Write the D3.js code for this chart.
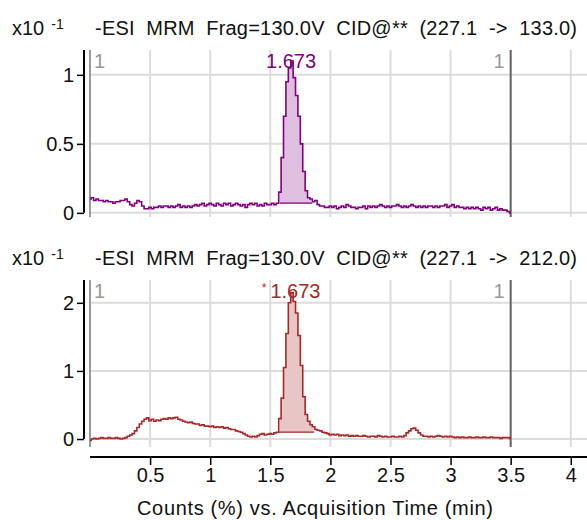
<!DOCTYPE html>
<html>
<head>
<meta charset="utf-8">
<script src="https://cdn.jsdelivr.net/npm/d3@7"></script>
<style>
  html, body { margin: 0; padding: 0; background: #fff; }
  svg { display: block; font-family: "Liberation Sans", Arial, sans-serif; }
</style>
</head>
<body>
<svg id="chart" width="587" height="520"></svg>
<script>
// Acquisition grid: one sample every 0.02 min from 0 to 3.50 min
const sampleStart = 0;
const sampleStep = 0.02;

// MRM transition 227.1 -> 133.0, counts x10^-1
const trace133 = [
  0.10,0.11,0.09,0.10,0.09,0.09,0.08,0.09,0.08,0.08,
  0.07,0.08,0.08,0.09,0.09,0.10,0.08,0.06,0.05,0.07,
  0.09,0.08,0.05,0.03,0.03,0.04,0.03,0.04,0.04,0.05,
  0.04,0.05,0.05,0.04,0.05,0.04,0.05,0.06,0.04,0.05,
  0.04,0.05,0.04,0.05,0.06,0.05,0.06,0.07,0.05,0.06,
  0.07,0.06,0.05,0.07,0.06,0.05,0.07,0.06,0.07,0.05,
  0.06,0.07,0.06,0.05,0.06,0.04,0.06,0.07,0.06,0.07,
  0.05,0.06,0.05,0.07,0.06,0.06,0.07,0.06,0.07,0.15,
  0.40,0.70,0.95,1.05,1.10,0.98,0.85,0.70,0.50,0.30,
  0.16,0.11,0.10,0.08,0.09,0.06,0.05,0.05,0.04,0.04,
  0.05,0.04,0.05,0.03,0.04,0.05,0.04,0.06,0.05,0.04,
  0.04,0.03,0.04,0.04,0.05,0.03,0.05,0.04,0.05,0.04,
  0.05,0.06,0.05,0.04,0.05,0.04,0.05,0.05,0.06,0.05,
  0.04,0.05,0.04,0.05,0.06,0.05,0.04,0.05,0.04,0.05,
  0.04,0.05,0.05,0.04,0.05,0.04,0.05,0.05,0.06,0.04,
  0.05,0.06,0.04,0.05,0.04,0.04,0.03,0.04,0.03,0.04,
  0.03,0.04,0.03,0.02,0.04,0.03,0.04,0.02,0.03,0.04,
  0.02,0.03,0.02,0.02,0.01,0.00
];

// MRM transition 227.1 -> 212.0, counts x10^-1
const trace212 = [
  -0.02,0.00,0.01,0.00,0.01,0.02,0.01,0.01,0.02,0.01,
  0.01,0.02,0.01,0.00,0.01,0.02,0.04,0.06,0.08,0.12,
  0.17,0.22,0.26,0.29,0.31,0.27,0.29,0.26,0.28,0.27,
  0.29,0.30,0.29,0.31,0.30,0.31,0.32,0.29,0.28,0.26,
  0.25,0.24,0.25,0.23,0.22,0.22,0.20,0.21,0.19,0.19,
  0.18,0.19,0.17,0.18,0.17,0.18,0.16,0.17,0.15,0.14,
  0.14,0.12,0.11,0.10,0.08,0.06,0.04,0.03,0.04,0.03,
  0.05,0.07,0.08,0.06,0.07,0.08,0.07,0.09,0.10,0.30,
  0.60,1.05,1.55,2.00,2.15,2.02,1.85,1.52,1.08,0.62,
  0.36,0.26,0.21,0.18,0.14,0.13,0.12,0.10,0.09,0.08,
  0.06,0.07,0.06,0.07,0.05,0.06,0.05,0.06,0.04,0.05,
  0.04,0.05,0.04,0.04,0.05,0.04,0.03,0.04,0.04,0.03,
  0.05,0.04,0.03,0.04,0.03,0.03,0.04,0.03,0.03,0.04,
  0.03,0.05,0.09,0.12,0.15,0.16,0.13,0.09,0.06,0.04,
  0.04,0.03,0.04,0.03,0.04,0.05,0.04,0.03,0.04,0.03,
  0.04,0.03,0.02,0.03,0.02,0.03,0.02,0.02,0.03,0.02,
  0.02,0.03,0.02,0.02,0.03,0.02,0.02,0.03,0.02,0.02,
  0.02,0.01,0.02,0.02,0.02,0.01
];

// Panel headers and annotations
const panelTitles = [
  "-ESI  MRM  Frag=130.0V  CID@**  (227.1  ->  133.0)",
  "-ESI  MRM  Frag=130.0V  CID@**  (227.1  ->  212.0)"
];
const peakLabels = ["1.673", "1.673"];
const peakApex = [1.673, 1.673];
const peakFlags = ["", "*"];
// integrated peak window: start, end, baseline level
const peakStart = [1.58, 1.565];
const peakEnd = [1.85, 1.865];
const peakBase = [0.07, 0.10];

const yTicks133 = [0, 0.5, 1];
const yTickLabels133 = ["0", "0.5", "1"];
const yTicks212 = [0, 1, 2];
const yTickLabels212 = ["0", "1", "2"];
const yDomain133 = [-0.03, 1.18];
const yDomain212 = [-0.117, 2.335];

const xTicks = [0.5, 1, 1.5, 2, 2.5, 3, 3.5, 4];
const xTickLabels = ["0.5", "1", "1.5", "2", "2.5", "3", "3.5", "4"];
const xDomain = [0, 4.135];
const segmentMarks = [0, 3.5];
const segmentLabel = "1";
const xAxisTitle = "Counts (%) vs. Acquisition Time (min)";
const scaleBase = "x10";
const scaleExp = "-1";

const lineColors = ["#800080", "#a82828"];
const fillColors = ["#dfbfdf", "#e9c6c6"];

// ---------- layout ----------
const svg = d3.select("#chart");
const plotLeft = 90, plotRight = 587;
const panelTops = [50, 280];
const panelHeight = 167;
const fontSize = 20;

const x = d3.scaleLinear().domain(xDomain).range([plotLeft, plotRight]);

const panels = [
  { values: trace133, ticks: yTicks133, tickLabels: yTickLabels133, domain: yDomain133 },
  { values: trace212, ticks: yTicks212, tickLabels: yTickLabels212, domain: yDomain212 }
];

panels.forEach((p, i) => {
  const top = panelTops[i];
  const bottom = top + panelHeight;
  const y = d3.scaleLinear().domain(p.domain).range([bottom, top]);
  const pts = p.values.map((v, k) => ({ t: sampleStart + k * sampleStep, v }));
  const g = svg.append("g");

  // header
  const hdr = g.append("text")
    .attr("x", 12).attr("y", top - 15)
    .attr("font-size", fontSize).attr("fill", "#111");
  hdr.append("tspan").text(scaleBase);
  hdr.append("tspan").attr("dx", 7).attr("dy", -6).attr("font-size", 14).text(scaleExp);
  g.append("text")
    .attr("x", 95).attr("y", top - 15)
    .attr("font-size", fontSize).attr("fill", "#111")
    .attr("xml:space", "preserve")
    .style("white-space", "pre")
    .attr("textLength", 482).attr("lengthAdjust", "spacing")
    .text(panelTitles[i]);

  // grid
  g.append("g").selectAll("line").data(xTicks).join("line")
    .attr("x1", d => x(d)).attr("x2", d => x(d))
    .attr("y1", top).attr("y2", bottom)
    .attr("stroke", "#dcdcdc").attr("stroke-width", 2);
  g.append("g").selectAll("line").data(p.ticks).join("line")
    .attr("x1", plotLeft).attr("x2", plotRight)
    .attr("y1", d => y(d)).attr("y2", d => y(d))
    .attr("stroke", "#dcdcdc").attr("stroke-width", 2);

  // segment boundaries
  g.append("line")
    .attr("x1", x(segmentMarks[0])).attr("x2", x(segmentMarks[0]))
    .attr("y1", top).attr("y2", bottom)
    .attr("stroke", "#9a9a9a").attr("stroke-width", 2);
  g.append("line")
    .attr("x1", x(segmentMarks[1])).attr("x2", x(segmentMarks[1]))
    .attr("y1", top).attr("y2", bottom)
    .attr("stroke", "#666").attr("stroke-width", 2);
  g.append("text")
    .attr("x", x(segmentMarks[0]) + 4).attr("y", top + 18)
    .attr("font-size", fontSize).attr("fill", "#999").text(segmentLabel);
  g.append("text")
    .attr("x", x(segmentMarks[1]) - 6).attr("y", top + 18)
    .attr("text-anchor", "end")
    .attr("font-size", fontSize).attr("fill", "#999").text(segmentLabel);

  // y axis
  const yAxis = d3.axisLeft(y).tickValues(p.ticks)
    .tickFormat((d, k) => p.tickLabels[k]).tickSize(7).tickPadding(3);
  const ya = g.append("g").attr("transform", `translate(84,0)`).call(yAxis);
  ya.select(".domain").attr("d", `M0,${top}V${y(0)}`).attr("stroke", "#000").attr("stroke-width", 2);
  ya.selectAll(".tick line").attr("stroke", "#000").attr("stroke-width", 1.5);
  ya.selectAll(".tick text").attr("font-size", fontSize).attr("fill", "#111")
    .attr("font-family", "Liberation Sans, Arial, sans-serif");

  // integrated peak fill
  const inPeak = pts.filter(d => d.t >= peakStart[i] - 1e-9 && d.t <= peakEnd[i] + 1e-9);
  const area = d3.area().curve(d3.curveStep)
    .x(d => x(d.t)).y0(y(peakBase[i])).y1(d => y(Math.max(d.v, peakBase[i])));
  g.append("path").datum(inPeak).attr("d", area).attr("fill", fillColors[i]);
  g.append("line")
    .attr("x1", x(peakStart[i])).attr("x2", x(peakEnd[i]))
    .attr("y1", y(peakBase[i])).attr("y2", y(peakBase[i]))
    .attr("stroke", lineColors[i]).attr("stroke-width", 1.2);

  // trace
  const line = d3.line().curve(d3.curveStep).x(d => x(d.t)).y(d => y(d.v));
  g.append("path").datum(pts).attr("d", line)
    .attr("fill", "none").attr("stroke", lineColors[i]).attr("stroke-width", 1.6);

  // apex label
  const lbl = g.append("text")
    .attr("x", x(peakApex[i])).attr("y", top + 18)
    .attr("text-anchor", "middle")
    .attr("font-size", fontSize).attr("fill", lineColors[i]);
  if (peakFlags[i]) {
    lbl.append("tspan").attr("font-size", 12).attr("dy", -6).text(peakFlags[i]);
    lbl.append("tspan").attr("dx", 4).attr("dy", 6).text(peakLabels[i]);
  } else {
    lbl.text(peakLabels[i]);
  }
});

// x axis
const xAxisY = 457;
const xa = svg.append("g").attr("transform", `translate(0,${xAxisY})`)
  .call(d3.axisBottom(x).tickValues(xTicks).tickFormat((d, k) => xTickLabels[k]).tickSize(8).tickPadding(3));
xa.select(".domain").attr("d", `M${plotLeft},0H${plotRight}`).attr("stroke", "#000").attr("stroke-width", 2);
xa.selectAll(".tick line").attr("stroke", "#000").attr("stroke-width", 1.5);
xa.selectAll(".tick text").attr("font-size", fontSize).attr("fill", "#111")
  .attr("font-family", "Liberation Sans, Arial, sans-serif");

svg.append("text")
  .attr("x", 137).attr("y", 515)
  .attr("font-size", fontSize).attr("fill", "#111")
  .attr("textLength", 356).attr("lengthAdjust", "spacing")
  .text(xAxisTitle);
</script>
</body>
</html>
